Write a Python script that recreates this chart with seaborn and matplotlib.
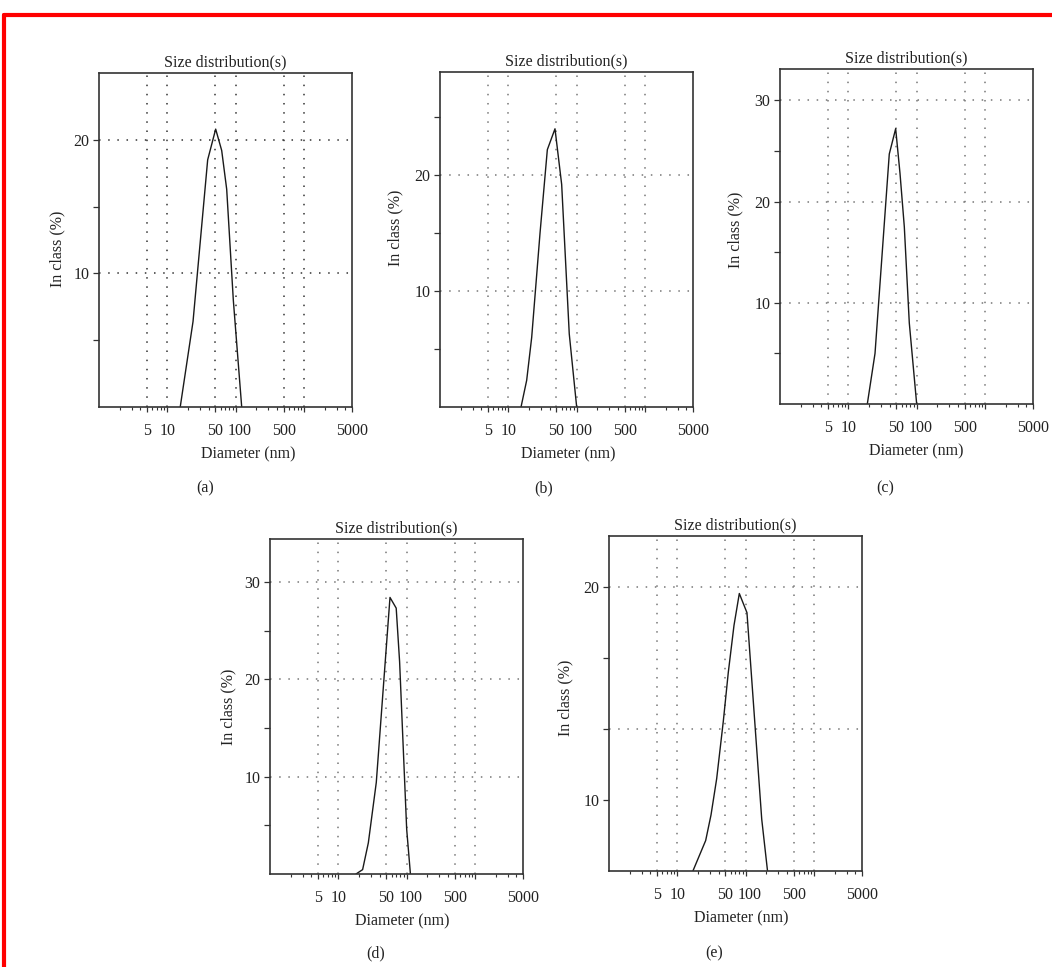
import seaborn as sns
import matplotlib.pyplot as plt
from matplotlib.lines import Line2D
from matplotlib.transforms import ScaledTranslation
from matplotlib.ticker import FixedLocator, FixedFormatter, LogLocator, NullFormatter

# Diameter (nm) / in class (%)
A_DIAM = [15.4, 23.7, 38.8, 50.8, 62.2, 73.6, 92.0, 122.0]
A_PCT = [0.0, 6.4, 18.5, 20.8, 19.2, 16.3, 8.0, 0.0]

B_DIAM = [15.3, 18.5, 21.9, 29.0, 37.1, 48.0, 60.1, 77.6, 99.6]
B_PCT = [0.0, 2.3, 6.0, 15.0, 22.2, 24.0, 19.2, 6.3, 0.0]

C_DIAM = [18.9, 24.5, 39.6, 49.1, 56.8, 65.7, 77.7, 99.6]
C_PCT = [0.0, 5.0, 24.7, 27.2, 22.8, 17.5, 8.0, 0.0]

D_DIAM = [18.1, 22.6, 27.4, 35.8, 56.8, 70.0, 78.5, 99.6, 113.0]
D_PCT = [0.0, 0.45, 3.2, 9.4, 28.4, 27.3, 21.8, 4.6, 0.0]

E_DIAM = [16.5, 25.9, 31.0, 37.5, 46.9, 55.5, 67.2, 80.4, 104.0, 171.0, 209.0]
E_PCT = [6.6, 8.1, 9.3, 11.0, 13.7, 16.0, 18.2, 19.7, 18.8, 9.1, 6.6]

X_TICKS = [5, 10, 50, 100, 500, 1000, 5000]
X_TICK_LABELS = ['5', '10', '50', '100', '500', '', '5000']
X_GRID = [5, 10, 50, 100, 500, 1000]

PANEL_NAMES = ['(a)', '(b)', '(c)', '(d)', '(e)']
Y_TOPS = [25.0, 28.9, 33.1, 34.4, 22.4]
Y_BOTTOMS = [0.0, 0.0, 0.0, 0.0, 6.67]
Y_LABELED = [[10, 20], [10, 20], [10, 20, 30], [10, 20, 30], [10, 20]]
Y_MINOR = [[5, 15], [5, 15, 25], [5, 15, 25], [5, 15, 25], [13.33, 16.67]]
Y_GRID = [[10, 20], [10, 20], [10, 20, 30], [10, 20, 30], [13.33, 20]]

sns.set_theme(style='ticks')
plt.rcParams['font.family'] = ['Liberation Serif', 'DejaVu Serif']

W, H = 1052, 967
fig = plt.figure(figsize=(W / 100, H / 100), dpi=100)

# axes boxes in pixels: left, top, right, bottom
boxes = [(99, 73, 352, 407), (440, 72, 693, 407), (780, 69, 1033, 404),
         (270, 539, 523, 874), (609, 536, 862, 871)]
captions = [(205, 488), (544, 488), (885, 488), (376, 953), (714, 953)]
xlabel_x = [0.589, 0.506, 0.538, 0.522, 0.522]
ylabel_pos = [(-0.134, 0.475), (-0.146, 0.536), (-0.146, 0.519),
              (-0.134, 0.499), (-0.142, 0.516)]

curves = [(A_DIAM, A_PCT), (B_DIAM, B_PCT), (C_DIAM, C_PCT),
          (D_DIAM, D_PCT), (E_DIAM, E_PCT)]

ink = '#222222'
fs = 11.5

for i, (diam, pct) in enumerate(curves):
    l, t, r, b = boxes[i]
    ax = fig.add_axes([l / W, 1 - b / H, (r - l) / W, (b - t) / H])
    ax.set_facecolor('white')

    grid_col = '#333333' if i == 0 else '#777777'
    for g in X_GRID:
        ax.axvline(g, color=grid_col, lw=1.1, ls=(0, (1, 5)), zorder=0)
    for g in Y_GRID[i]:
        ax.axhline(g, color=grid_col, lw=1.1, ls=(0, (1, 5)), zorder=0)

    sns.lineplot(x=diam, y=pct, ax=ax, color='#1a1a1a', lw=1.0,
                 sort=False, estimator=None)

    ax.set_xscale('log')
    ax.set_xlim(1, 5000)
    ax.set_ylim(Y_BOTTOMS[i], Y_TOPS[i])
    ax.xaxis.set_major_locator(FixedLocator(X_TICKS))
    ax.xaxis.set_major_formatter(FixedFormatter(X_TICK_LABELS))
    ax.xaxis.set_minor_locator(LogLocator(base=10, subs=range(2, 10), numticks=20))
    ax.xaxis.set_minor_formatter(NullFormatter())
    ax.yaxis.set_major_locator(FixedLocator(Y_LABELED[i]))
    ax.yaxis.set_minor_locator(FixedLocator(Y_MINOR[i]))

    for sp in ax.spines.values():
        sp.set_visible(True)
        sp.set_color('#333333')
        sp.set_linewidth(1.2)

    ax.tick_params(axis='x', which='major', direction='out', length=3.5,
                   width=0.9, pad=8, labelsize=fs, colors='#333333', labelcolor=ink)
    ax.tick_params(axis='x', which='minor', direction='out', length=2.5,
                   width=0.8, colors='#333333')
    ax.tick_params(axis='y', which='both', direction='out', length=4,
                   width=0.9, pad=3, labelsize=fs, colors='#333333', labelcolor=ink)

    # the "100" label sits a little right of its tick in the original
    lab100 = ax.xaxis.get_major_ticks()[3].label1
    lab100.set_transform(lab100.get_transform()
                         + ScaledTranslation(4 / 100, 0, fig.dpi_scale_trans))

    ax.set_title('Size distribution(s)', fontsize=fs, color=ink, pad=5)
    ax.set_xlabel('Diameter (nm)', fontsize=fs, color=ink)
    ax.set_ylabel('In class (%)', fontsize=fs, color=ink)
    ax.xaxis.set_label_coords(xlabel_x[i], -0.119)
    ax.yaxis.set_label_coords(*ylabel_pos[i])

    cx, cy = captions[i]
    fig.text(cx / W, 1 - cy / H, PANEL_NAMES[i], ha='center', va='center',
             fontsize=fs, color=ink)

# red frame along the top and left edges
top_y = 1 - 14.7 / H
left_x = 4 / W
fig.add_artist(Line2D([left_x, left_x], [0, top_y], transform=fig.transFigure,
                      color='#ff0000', lw=3))
fig.add_artist(Line2D([left_x, 1], [top_y, top_y], transform=fig.transFigure,
                      color='#ff0000', lw=3))

fig.savefig('out.png', dpi=100, facecolor='white')
plt.close(fig)
